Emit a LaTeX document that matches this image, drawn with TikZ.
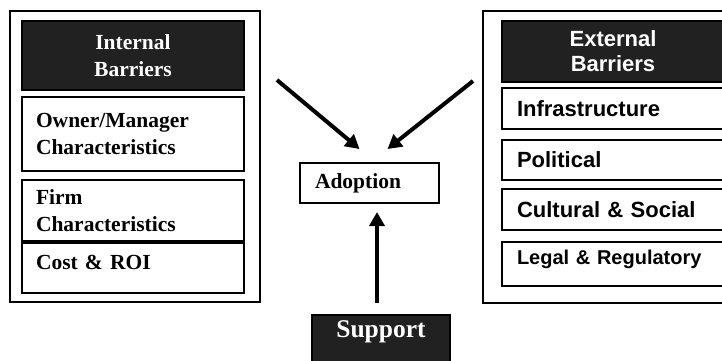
\documentclass[tikz,border=0pt]{standalone}
\usepackage{fontspec}
\setmainfont{Liberation Serif}
\newfontfamily\arialfont{Liberation Sans}
\usetikzlibrary{arrows.meta,positioning}
\definecolor{HeadClr}{rgb}{0.13,0.13,0.13}

\tikzset{
  frame/.style={draw,line width=1.3pt},
  cell/.style={draw,line width=1.7pt,outer sep=0pt,anchor=north west,
    inner xsep=14pt,text width=194pt,align=left,
    font=\fontsize{21.5}{27}\selectfont\bfseries},
  scell/.style={cell,inner xsep=15pt,text width=192pt,
    font=\arialfont\fontsize{22}{25}\selectfont\bfseries},
  head/.style={cell,fill=HeadClr,text=white,align=center},
  shead/.style={scell,fill=HeadClr,text=white,align=center},
  push/.style={line width=4pt,-{Triangle[length=14pt,width=15pt]}}
}

\begin{document}
\begin{tikzpicture}[x=1pt,y=-1pt]
\useasboundingbox (0,0) rectangle (722,360);
\clip (0,0) rectangle (722,360);

% internal barriers
\draw[frame] (10,11) rectangle (260,302);
\node[head,minimum height=69pt] (inHead) at (22,21) {Internal\\Barriers};
\node[cell,minimum height=74pt] (owner) at (22,97) {Owner/Manager\\Characteristics};
\node[cell,minimum height=61pt] (firm) at (22,180) {Firm\\Characteristics};
\node[cell,minimum height=50pt,text depth=12pt] (cost) at (22,243) {Cost \& ROI};

% external barriers
\draw[frame] (483,11) rectangle (743,303);
\node[shead,minimum height=61pt] (exHead) at (502,21) {External\\Barriers};
\node[scell,minimum height=41pt] (infra) at (502,88) {Infrastructure};
\node[scell,minimum height=40pt] (polit) at (502,140) {Political};
\node[scell,minimum height=41pt] (cult) at (502,189) {Cultural \& Social};
\node[scell,minimum height=44pt,text depth=14pt,
  font=\arialfont\fontsize{20}{24}\selectfont\bfseries] (legal) at (502,242) {Legal \& Regulatory};

% centre
\node[cell,minimum height=40pt,inner xsep=15pt,text width=109pt] (adopt) at (300,163) {Adoption};
\node[cell,fill=HeadClr,text=white,anchor=north,text width=110pt,align=center,
  inner ysep=6pt,text depth=22pt,font=\fontsize{25.5}{30}\selectfont\bfseries] (support) at (381,315) {Support};

\coordinate (inTail) at (277,80);
\coordinate (exTail) at (473,81);
\draw[push] (inTail) -- ([xshift=-10pt,yshift=14pt]adopt.north);
\draw[push] (exTail) -- ([xshift=18pt,yshift=14pt]adopt.north);
\draw[push] ([xshift=-4pt,yshift=12pt]support.north) -- ([xshift=7.5pt,yshift=-9pt]adopt.south);
\end{tikzpicture}
\end{document}
